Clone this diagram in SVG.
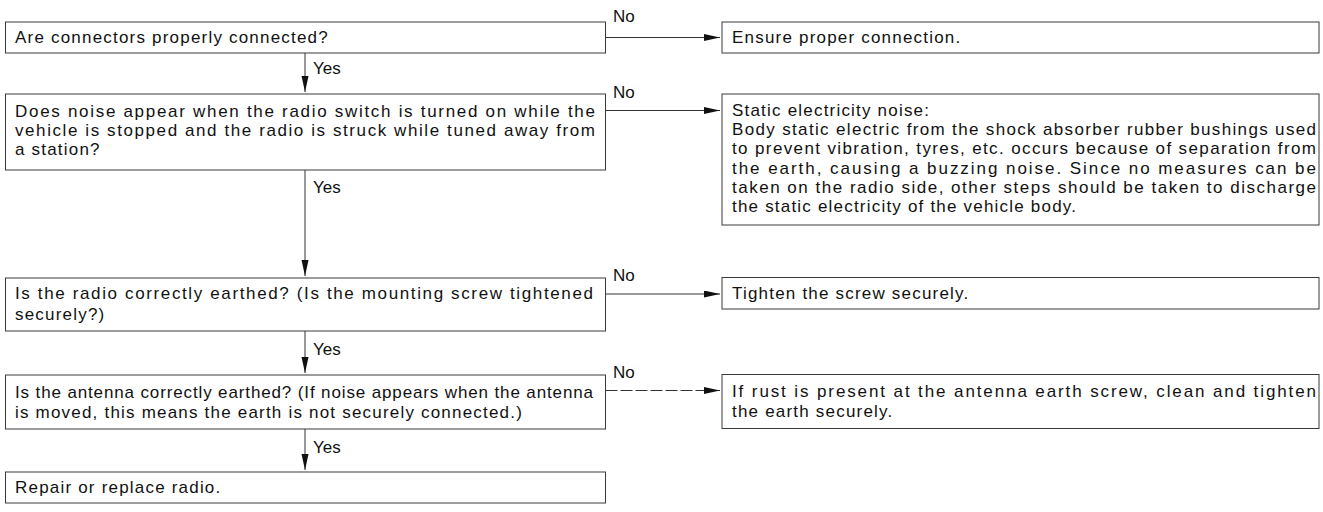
<svg xmlns="http://www.w3.org/2000/svg" width="1323" height="512" viewBox="0 0 1323 512">
<style>
.box{fill:#fff;stroke:#3a3a3a;stroke-width:1}
.t{font-family:"Liberation Sans",Arial,sans-serif;font-size:17px;fill:#111;letter-spacing:1.2px}
.j{font-family:"Liberation Sans",Arial,sans-serif;font-size:17px;fill:#111}
.lbl{font-family:"Liberation Sans",Arial,sans-serif;font-size:17px;fill:#111}
.c{stroke:#333;stroke-width:1;fill:none}
.d{stroke-dasharray:12 3}
</style>
<defs>
<marker id="ah" markerUnits="userSpaceOnUse" markerWidth="16" markerHeight="8" refX="16" refY="3.5" orient="auto">
<path d="M0,0 L16,3.5 L0,7 z" fill="#111"/>
</marker>
</defs>
<rect width="1323" height="512" fill="#fff"/>
<g id="connectors">
<line class="c" x1="605.5" y1="37.5" x2="720" y2="37.5" marker-end="url(#ah)"/>
<line class="c" x1="605.5" y1="110.5" x2="720" y2="110.5" marker-end="url(#ah)"/>
<line class="c" x1="605.5" y1="294" x2="720" y2="294" marker-end="url(#ah)"/>
<line class="c d" x1="605.5" y1="390.5" x2="720" y2="390.5" marker-end="url(#ah)"/>
<line class="c" x1="305" y1="53" x2="305" y2="92" marker-end="url(#ah)"/>
<line class="c" x1="305" y1="170" x2="305" y2="276" marker-end="url(#ah)"/>
<line class="c" x1="305" y1="331" x2="305" y2="373" marker-end="url(#ah)"/>
<line class="c" x1="305" y1="429" x2="305" y2="470" marker-end="url(#ah)"/>
<text class="lbl" x="613" y="21.5">No</text>
<text class="lbl" x="613" y="97.5">No</text>
<text class="lbl" x="613" y="280.5">No</text>
<text class="lbl" x="613" y="377.5">No</text>
<text class="lbl" x="313" y="74">Yes</text>
<text class="lbl" x="313" y="192.5">Yes</text>
<text class="lbl" x="313" y="355">Yes</text>
<text class="lbl" x="313" y="453">Yes</text>
</g>
<g id="n1">
<rect class="box" x="5.5" y="22" width="600" height="31"/>
<text class="t" x="15" y="42.5">Are connectors properly connected?</text>
</g>
<g id="n2">
<rect class="box" x="722" y="22" width="597" height="31"/>
<text class="t" x="732" y="42.5">Ensure proper connection.</text>
</g>
<g id="n3">
<rect class="box" x="5.5" y="94" width="600" height="76"/>
<text class="j" x="15" y="116.7" textLength="580" lengthAdjust="spacing">Does noise appear when the radio switch is turned on while the</text>
<text class="j" x="15" y="136" textLength="580" lengthAdjust="spacing">vehicle is stopped and the radio is struck while tuned away from</text>
<text class="t" x="15" y="155.3">a station?</text>
</g>
<g id="n4">
<rect class="box" x="722" y="94" width="597" height="131"/>
<text class="t" x="732" y="115.7">Static electricity noise:</text>
<text class="j" x="732" y="135" textLength="584" lengthAdjust="spacing">Body static electric from the shock absorber rubber bushings used</text>
<text class="j" x="732" y="154.3" textLength="584" lengthAdjust="spacing">to prevent vibration, tyres, etc. occurs because of separation from</text>
<text class="j" x="732" y="173.6" textLength="584" lengthAdjust="spacing">the earth, causing a buzzing noise. Since no measures can be</text>
<text class="j" x="732" y="192.9" textLength="584" lengthAdjust="spacing">taken on the radio side, other steps should be taken to discharge</text>
<text class="t" x="732" y="212.2">the static electricity of the vehicle body.</text>
</g>
<g id="n5">
<rect class="box" x="5.5" y="278" width="600" height="53"/>
<text class="j" x="15" y="299.3" textLength="578" lengthAdjust="spacing">Is the radio correctly earthed? (Is the mounting screw tightened</text>
<text class="t" x="15" y="320">securely?)</text>
</g>
<g id="n6">
<rect class="box" x="722" y="277.5" width="597" height="31.5"/>
<text class="t" x="732" y="299.3">Tighten the screw securely.</text>
</g>
<g id="n7">
<rect class="box" x="5.5" y="375" width="600" height="54"/>
<text class="j" x="15" y="397.7" textLength="578" lengthAdjust="spacing">Is the antenna correctly earthed? (If noise appears when the antenna</text>
<text class="t" x="15" y="418.3">is moved, this means the earth is not securely connected.)</text>
</g>
<g id="n8">
<rect class="box" x="722" y="374.5" width="597" height="54"/>
<text class="j" x="732" y="396.7" textLength="584" lengthAdjust="spacing">If rust is present at the antenna earth screw, clean and tighten</text>
<text class="t" x="732" y="416.7">the earth securely.</text>
</g>
<g id="n9">
<rect class="box" x="5.5" y="472" width="600" height="31"/>
<text class="t" x="15" y="493">Repair or replace radio.</text>
</g>
</svg>
